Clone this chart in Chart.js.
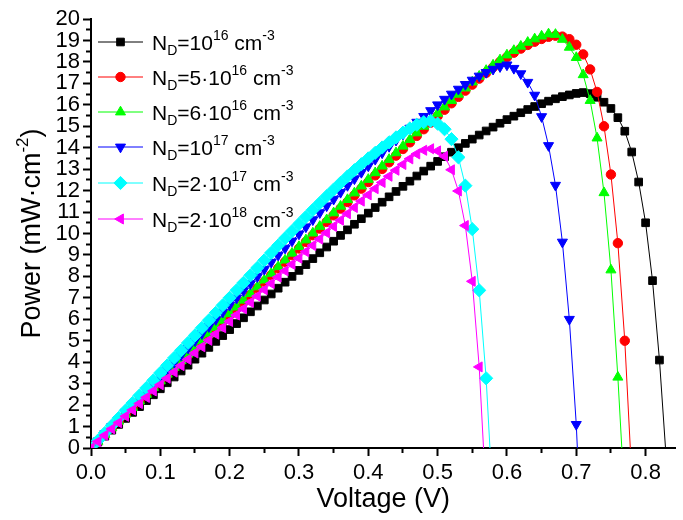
<!DOCTYPE html>
<html>
<head>
<meta charset="utf-8">
<title>Power vs voltage for several donor concentrations</title>
<script src="https://cdn.jsdelivr.net/npm/chart.js@4.4.1/dist/chart.umd.min.js"></script>
<style>
  html, body { margin: 0; padding: 0; background: #ffffff; overflow: hidden; }
  #wrap { width: 683px; height: 520px; position: relative; }
</style>
</head>
<body>
<div id="wrap"><canvas id="chart" width="683" height="520"></canvas></div>
<script>
// Bias voltage (V), sampled every 10 mV
const voltage = [
  0.00, 0.01, 0.02, 0.03, 0.04, 0.05, 0.06, 0.07, 0.08, 0.09,
  0.10, 0.11, 0.12, 0.13, 0.14, 0.15, 0.16, 0.17, 0.18, 0.19,
  0.20, 0.21, 0.22, 0.23, 0.24, 0.25, 0.26, 0.27, 0.28, 0.29,
  0.30, 0.31, 0.32, 0.33, 0.34, 0.35, 0.36, 0.37, 0.38, 0.39,
  0.40, 0.41, 0.42, 0.43, 0.44, 0.45, 0.46, 0.47, 0.48, 0.49,
  0.50, 0.51, 0.52, 0.53, 0.54, 0.55, 0.56, 0.57, 0.58, 0.59,
  0.60, 0.61, 0.62, 0.63, 0.64, 0.65, 0.66, 0.67, 0.68, 0.69,
  0.70, 0.71, 0.72, 0.73, 0.74, 0.75, 0.76, 0.77, 0.78, 0.79,
  0.80, 0.81, 0.82, 0.83
];

// Output power density (mW/cm^2) for each donor concentration
const powerNd1e16 = [
  0, 0.28, 0.55, 0.83, 1.10, 1.38, 1.66, 1.93, 2.21, 2.48,
  2.76, 3.04, 3.31, 3.59, 3.86, 4.14, 4.42, 4.69, 4.97, 5.24,
  5.52, 5.80, 6.07, 6.35, 6.62, 6.90, 7.18, 7.45, 7.73, 8.00,
  8.28, 8.55, 8.83, 9.10, 9.37, 9.64, 9.91, 10.17, 10.43, 10.69,
  10.95, 11.21, 11.46, 11.71, 11.96, 12.20, 12.44, 12.68, 12.91, 13.14,
  13.36, 13.58, 13.79, 14.00, 14.20, 14.40, 14.59, 14.78, 14.96, 15.14,
  15.31, 15.47, 15.63, 15.78, 15.92, 16.05, 16.17, 16.28, 16.38, 16.46,
  16.53, 16.57, 16.52, 16.35, 16.12, 15.83, 15.40, 14.77, 13.80, 12.40,
  10.50, 7.80, 4.10, -0.60
];
const powerNd5e16 = [
  0, 0.31, 0.62, 0.93, 1.24, 1.55, 1.86, 2.17, 2.48, 2.79,
  3.10, 3.41, 3.72, 4.03, 4.34, 4.65, 4.96, 5.27, 5.58, 5.89,
  6.20, 6.51, 6.82, 7.13, 7.44, 7.75, 8.06, 8.37, 8.68, 8.99,
  9.30, 9.61, 9.92, 10.23, 10.54, 10.85, 11.16, 11.47, 11.78, 12.09,
  12.40, 12.71, 13.01, 13.32, 13.63, 13.94, 14.25, 14.55, 14.86, 15.17,
  15.47, 15.77, 16.07, 16.37, 16.66, 16.94, 17.22, 17.49, 17.75, 18.00,
  18.22, 18.43, 18.62, 18.79, 18.94, 19.07, 19.17, 19.22, 19.18, 19.06,
  18.80, 18.35, 17.65, 16.60, 15.00, 12.75, 9.55, 5.00, -1.30
];
const powerNd6e16 = [
  0, 0.31, 0.63, 0.94, 1.25, 1.57, 1.88, 2.19, 2.50, 2.82,
  3.13, 3.44, 3.76, 4.07, 4.38, 4.70, 5.01, 5.32, 5.63, 5.95,
  6.26, 6.57, 6.89, 7.20, 7.51, 7.83, 8.14, 8.45, 8.76, 9.08,
  9.39, 9.70, 10.02, 10.33, 10.64, 10.96, 11.27, 11.58, 11.89, 12.21,
  12.52, 12.83, 13.14, 13.45, 13.76, 14.07, 14.38, 14.69, 15.00, 15.30,
  15.60, 15.90, 16.20, 16.49, 16.78, 17.06, 17.33, 17.60, 17.85, 18.09,
  18.32, 18.53, 18.73, 18.91, 19.07, 19.20, 19.30, 19.28, 19.05, 18.68,
  18.20, 17.40, 16.20, 14.45, 11.90, 8.30, 3.30, -2.50
];
const powerNd1e17 = [
  0, 0.33, 0.67, 1.00, 1.33, 1.67, 2.00, 2.33, 2.66, 3.00,
  3.33, 3.66, 4.00, 4.33, 4.66, 5.00, 5.33, 5.66, 5.99, 6.33,
  6.66, 6.99, 7.33, 7.66, 7.99, 8.33, 8.66, 8.99, 9.32, 9.65,
  9.98, 10.31, 10.64, 10.97, 11.29, 11.60, 11.92, 12.24, 12.55, 12.85,
  13.15, 13.46, 13.76, 14.06, 14.35, 14.63, 14.91, 15.19, 15.46, 15.73,
  16.00, 16.26, 16.50, 16.73, 16.95, 17.15, 17.34, 17.51, 17.66, 17.78,
  17.86, 17.70, 17.45, 17.05, 16.45, 15.45, 14.10, 12.25, 9.60, 6.00,
  1.10, -6.00
];
const powerNd2e17 = [
  0, 0.35, 0.70, 1.05, 1.40, 1.75, 2.10, 2.45, 2.80, 3.15,
  3.50, 3.85, 4.20, 4.55, 4.90, 5.25, 5.60, 5.95, 6.30, 6.65,
  7.00, 7.35, 7.70, 8.05, 8.40, 8.75, 9.10, 9.44, 9.78, 10.11,
  10.44, 10.77, 11.10, 11.42, 11.74, 12.05, 12.36, 12.66, 12.95, 13.23,
  13.50, 13.76, 14.01, 14.25, 14.48, 14.70, 14.90, 15.07, 15.19, 15.25,
  15.12, 14.86, 14.40, 13.55, 12.23, 10.20, 7.35, 3.25, -2.70
];
const powerNd2e18 = [
  0, 0.30, 0.59, 0.89, 1.18, 1.48, 1.77, 2.07, 2.36, 2.66,
  2.95, 3.25, 3.54, 3.84, 4.13, 4.43, 4.72, 5.02, 5.31, 5.61,
  5.90, 6.20, 6.49, 6.79, 7.08, 7.38, 7.67, 7.97, 8.26, 8.56,
  8.85, 9.15, 9.44, 9.74, 10.03, 10.33, 10.62, 10.92, 11.21, 11.51,
  11.80, 12.09, 12.38, 12.67, 12.95, 13.22, 13.48, 13.71, 13.88, 13.95,
  13.85, 13.60, 12.97, 11.98, 10.37, 7.77, 3.78, -2.30
];

// Axis tick values
const xTicks = [0.0, 0.1, 0.2, 0.3, 0.4, 0.5, 0.6, 0.7, 0.8];
const xMinorTicks = [0.05, 0.15, 0.25, 0.35, 0.45, 0.55, 0.65, 0.75];
const yTicks = [0, 1, 2, 3, 4, 5, 6, 7, 8, 9, 10, 11, 12, 13, 14, 15, 16, 17, 18, 19, 20];
const yMinorTicks = [0.5, 1.5, 2.5, 3.5, 4.5, 5.5, 6.5, 7.5, 8.5, 9.5,
  10.5, 11.5, 12.5, 13.5, 14.5, 15.5, 16.5, 17.5, 18.5, 19.5];

// Legend text pieces: [text, 'sub' | 'sup' | '']
const legendLabels = [
  [['N', ''], ['D', 'sub'], ['=10', ''], ['16', 'sup'], [' cm', ''], ['-3', 'sup']],
  [['N', ''], ['D', 'sub'], ['=5\u00b710', ''], ['16', 'sup'], [' cm', ''], ['-3', 'sup']],
  [['N', ''], ['D', 'sub'], ['=6\u00b710', ''], ['16', 'sup'], [' cm', ''], ['-3', 'sup']],
  [['N', ''], ['D', 'sub'], ['=10', ''], ['17', 'sup'], [' cm', ''], ['-3', 'sup']],
  [['N', ''], ['D', 'sub'], ['=2\u00b710', ''], ['17', 'sup'], [' cm', ''], ['-3', 'sup']],
  [['N', ''], ['D', 'sub'], ['=2\u00b710', ''], ['18', 'sup'], [' cm', ''], ['-3', 'sup']]
];

const FONT = "'Liberation Sans', Arial, Helvetica, sans-serif";
const X_MIN = 0, X_MAX = 0.843, Y_MIN = 0, Y_MAX = 20;

const seriesStyles = [
  { values: powerNd1e16, color: '#000000', style: 'rect',     rot: 0,   r: 5.4 },
  { values: powerNd5e16, color: '#ff0000', style: 'circle',   rot: 0,   r: 4.7 },
  { values: powerNd6e16, color: '#00ff00', style: 'triangle', rot: 0,   r: 5.8 },
  { values: powerNd1e17, color: '#0000ff', style: 'triangle', rot: 180, r: 5.8 },
  { values: powerNd2e17, color: '#00ffff', style: 'rectRot',  rot: 0,   r: 6.6 },
  { values: powerNd2e18, color: '#ff00ff', style: 'triangle', rot: 270, r: 5.8 }
];

const datasets = seriesStyles.map((s, k) => ({
  data: s.values.map((p, i) => ({ x: voltage[i], y: p })),
  xAxisID: 'x',
  yAxisID: 'y',
  borderColor: s.color,
  borderWidth: 1,
  backgroundColor: s.color,
  pointStyle: s.style,
  pointRotation: s.rot,
  pointRadius: s.r,
  pointBackgroundColor: s.color,
  pointBorderColor: s.color,
  pointBorderWidth: 1,
  tension: 0,
  clip: 0,
  order: seriesStyles.length - k   // later series are painted on top
}));

// Writes text made of normal / subscript / superscript pieces, vertically centred on y
function drawRich(ctx, parts, x, y, size, small, align) {
  const widths = parts.map(([t, kind]) => {
    ctx.font = (kind ? small : size) + 'px ' + FONT;
    return ctx.measureText(t).width;
  });
  const total = widths.reduce((a, b) => a + b, 0);
  let cx = align === 'center' ? x - total / 2 : x;
  const base = y + size * 0.36;
  ctx.fillStyle = '#000';
  ctx.textAlign = 'left';
  ctx.textBaseline = 'alphabetic';
  parts.forEach(([t, kind], i) => {
    ctx.font = (kind ? small : size) + 'px ' + FONT;
    let by = base;
    if (kind === 'sub') by = base + size * 0.28;
    if (kind === 'sup') by = base - size * 0.45;
    ctx.fillText(t, cx, by);
    cx += widths[i];
  });
}

// Rotated y title and the legend with sub/superscripts
const decorPlugin = {
  id: 'decor',
  afterDraw(chart) {
    const ctx = chart.ctx;
    const area = chart.chartArea;

    ctx.save();
    ctx.translate(30, (area.top + area.bottom) / 2);
    ctx.rotate(-Math.PI / 2);
    drawRich(ctx, [['Power (mW\u00b7cm', ''], ['-2', 'sup'], [')', '']], 0, 0, 27, 17, 'center');
    ctx.restore();

    ctx.save();
    const rowY = [42, 77, 112, 147, 183, 219];
    seriesStyles.forEach((s, i) => {
      const y = rowY[i];
      ctx.strokeStyle = s.color;
      ctx.lineWidth = 1;
      ctx.beginPath();
      ctx.moveTo(98, y);
      ctx.lineTo(143, y);
      ctx.stroke();
      ctx.fillStyle = s.color;
      ctx.strokeStyle = s.color;
      Chart.helpers.drawPoint(ctx, { pointStyle: s.style, rotation: s.rot, radius: s.r, borderWidth: 1 }, 120.5, y);
      drawRich(ctx, legendLabels[i], 152, y, 21, 14, 'left');
    });
    ctx.restore();
  }
};

// Grid options that only produce outward tick marks
const tickMarks = (len) => ({
  display: true,
  drawOnChartArea: false,
  drawTicks: true,
  tickLength: len,
  tickWidth: 2,
  tickColor: '#000000'
});

new Chart(document.getElementById('chart'), {
  type: 'line',
  data: { datasets },
  plugins: [decorPlugin],
  options: {
    responsive: false,
    animation: false,
    devicePixelRatio: 1,
    layout: { padding: { top: 19, right: 0, left: 0, bottom: 0 } },
    plugins: { legend: { display: false }, tooltip: { enabled: false } },
    scales: {
      x: {
        type: 'linear',
        position: 'bottom',
        min: X_MIN,
        max: X_MAX,
        grid: tickMarks(8),
        border: { display: true, color: '#000', width: 2 },
        afterBuildTicks: (scale) => { scale.ticks = xTicks.map(v => ({ value: v })); },
        afterFit: (scale) => { scale.height = 72; },
        ticks: {
          padding: 4,
          color: '#000',
          autoSkip: false,
          font: { family: FONT, size: 22 },
          maxRotation: 0,
          callback: (v) => Number(v).toFixed(1)
        },
        title: {
          display: true,
          text: 'Voltage (V)',
          color: '#000',
          font: { family: FONT, size: 27 },
          padding: { top: 0, bottom: 4 }
        }
      },
      xMinor: {
        type: 'linear',
        axis: 'x',
        position: { y: 0 },
        min: X_MIN,
        max: X_MAX,
        grid: tickMarks(5),
        border: { display: false },
        afterBuildTicks: (scale) => { scale.ticks = xMinorTicks.map(v => ({ value: v })); },
        ticks: { display: false }
      },
      y: {
        type: 'linear',
        position: 'left',
        min: Y_MIN,
        max: Y_MAX,
        grid: tickMarks(8),
        border: { display: true, color: '#000', width: 2 },
        afterBuildTicks: (scale) => { scale.ticks = yTicks.map(v => ({ value: v })); },
        afterFit: (scale) => { scale.width = 91; },
        ticks: {
          padding: 3,
          color: '#000',
          autoSkip: false,
          font: { family: FONT, size: 22 }
        }
      },
      yMinor: {
        type: 'linear',
        axis: 'y',
        position: { x: 0 },
        min: Y_MIN,
        max: Y_MAX,
        grid: tickMarks(5),
        border: { display: false },
        afterBuildTicks: (scale) => { scale.ticks = yMinorTicks.map(v => ({ value: v })); },
        ticks: { display: false }
      }
    }
  }
});
</script>
</body>
</html>
